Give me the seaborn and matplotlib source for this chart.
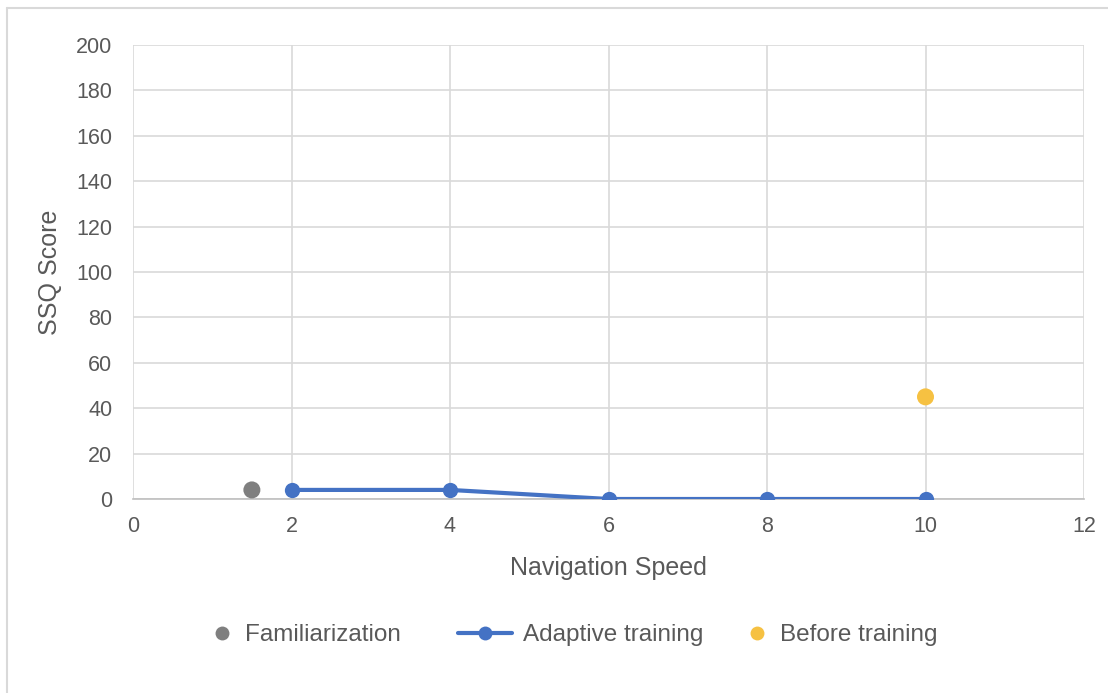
import matplotlib
matplotlib.use("Agg")
import matplotlib.pyplot as plt
import seaborn as sns
from matplotlib.lines import Line2D

# Data
fam_x = [1.5]
fam_y = [4]
adapt_x = [2, 4, 6, 8, 10]
adapt_y = [4, 4, 0, 0, 0]
before_x = [10]
before_y = [45]

series_names = ["Familiarization", "Adaptive training", "Before training"]
colors = ["#7F7F7F", "#4472C4", "#F6C142"]

sns.set_theme(style="white")
plt.rcParams['font.family'] = ['Liberation Sans', 'DejaVu Sans']

W, H = 1108, 693
fig = plt.figure(figsize=(W / 100, H / 100), dpi=100)
ax = fig.add_axes([133/W, 1-499/H, (1084-133)/W, (499-45)/H])

sns.scatterplot(x=fam_x, y=fam_y, ax=ax, color=colors[0], s=150, edgecolor="none", zorder=4)
sns.lineplot(x=adapt_x, y=adapt_y, ax=ax, color=colors[1], linewidth=3, marker="o",
             markersize=11, markeredgewidth=0, zorder=3)
sns.scatterplot(x=before_x, y=before_y, ax=ax, color=colors[2], s=150, edgecolor="none", zorder=4)

ax.set_xlim(0, 12)
ax.set_ylim(0, 200)
ax.set_xticks(range(0, 13, 2))
ax.set_yticks(range(0, 201, 20))
ax.grid(True, color="#D9D9D9", linewidth=1.2)
ax.set_axisbelow(True)
for s in ["top", "right", "left"]:
    ax.spines[s].set_visible(False)
ax.spines["bottom"].set_color("#BFBFBF")
ax.spines["bottom"].set_linewidth(1.2)
ax.tick_params(axis="both", labelsize=15.5, colors="#595959", length=0)
ax.tick_params(axis="y", pad=15)
ax.tick_params(axis="x", pad=12)
ax.set_xlabel("Navigation Speed", fontsize=18, color="#595959", labelpad=14)
ax.set_ylabel("SSQ Score", fontsize=18, color="#595959", labelpad=10)

# Legend: three entries, each placed like the reference
fs = 17.5
em = fs * 100 / 72  # pixels per em
entries = [
    (Line2D([], [], color=colors[0], marker="o", linestyle="none", markersize=10, markeredgewidth=0),
     series_names[0], 222 - 0.5 * em, 1.0),
    (Line2D([], [], color=colors[1], marker="o", linewidth=3, markersize=10, markeredgewidth=0),
     series_names[1], 458, 54 / em),
    (Line2D([], [], color=colors[2], marker="o", linestyle="none", markersize=10, markeredgewidth=0),
     series_names[2], 757 - 0.5 * em, 1.0),
]
for h, lab, xpix, hl in entries:
    lg = fig.legend([h], [lab], loc="center left", bbox_to_anchor=(xpix / W, 1 - 635 / H),
                    frameon=False, fontsize=fs, handlelength=hl, handletextpad=0.45,
                    borderpad=0, borderaxespad=0)
    for t in lg.get_texts():
        t.set_color("#595959")

# outer chart border (partially cropped like the reference)
fig.add_artist(Line2D([7/W, 7/W], [0, 1-8/H], color="#D9D9D9", linewidth=1.5, transform=fig.transFigure))
fig.add_artist(Line2D([7/W, 1], [1-8/H, 1-8/H], color="#D9D9D9", linewidth=1.5, transform=fig.transFigure))

fig.savefig("out.png", dpi=100, facecolor="white")
